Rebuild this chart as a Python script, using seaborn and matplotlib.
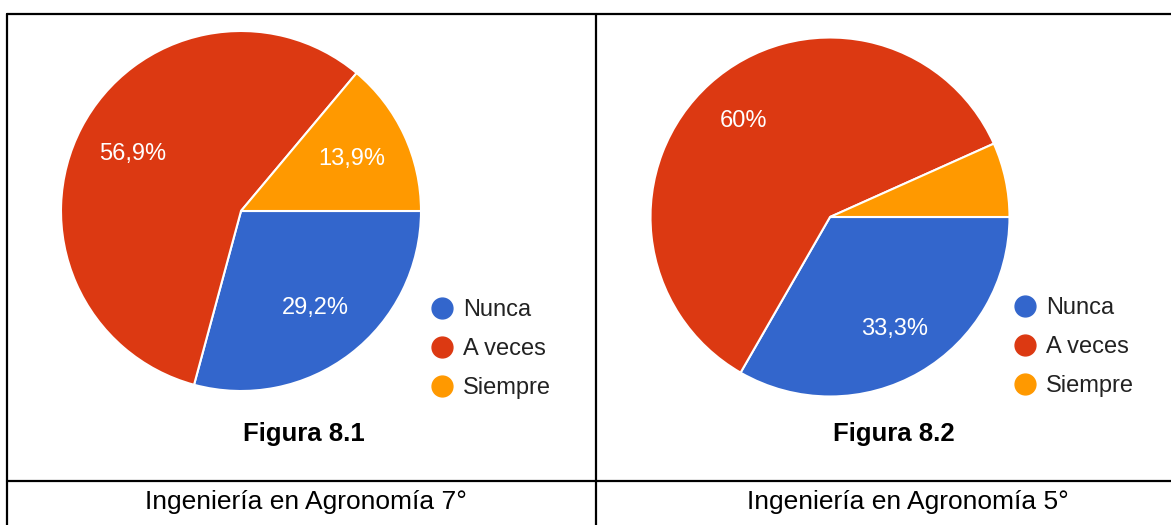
import matplotlib
matplotlib.use('Agg')
import matplotlib.pyplot as plt
from matplotlib.lines import Line2D
import seaborn as sns

# ─── Data ─────────────────────────────────────────────────────────────────────

CATEGORIES = ['Nunca', 'A veces', 'Siempre']
VALUES_7 = [29.2, 56.9, 13.9]    # Ingeniería en Agronomía 7°
VALUES_5 = [33.3, 60.0, 6.7]     # Ingeniería en Agronomía 5°
FIG_TITLES = ['Figura 8.1', 'Figura 8.2']
CAPTIONS = ['Ingeniería en Agronomía 7°', 'Ingeniería en Agronomía 5°']

COLORS = sns.color_palette(['#3366CC', '#DC3912', '#FF9900'])

W, H = 1171, 525

sns.set_theme(style='white')
plt.rcParams['font.family'] = ['Liberation Sans', 'DejaVu Sans']


def fx(x):
    return x / W


def fy(y):
    return 1 - y / H


def pct_label(p):
    # Google-style labels: comma decimals, small slices left unlabeled
    if p < 10:
        return ''
    s = f'{p:.1f}'.replace('.', ',')
    if s.endswith(',0'):
        s = s[:-2]
    return s + '%'


def draw_pie(fig, values, cx, cy, r, pctdist, legend_xy):
    ax = fig.add_axes([fx(cx - r), fy(cy + r), 2 * r / W, 2 * r / H])
    ax.pie(values, colors=COLORS, startangle=0, counterclock=False,
           autopct=pct_label, pctdistance=pctdist,
           wedgeprops=dict(edgecolor='white', linewidth=1.5),
           textprops=dict(color='white', fontsize=17))
    ax.set_xlim(-1, 1)
    ax.set_ylim(-1, 1)
    ax.set_aspect('equal')
    ax.axis('off')

    handles = [Line2D([], [], marker='o', linestyle='none', markersize=15,
                      markerfacecolor=c, markeredgecolor=c) for c in COLORS]
    fig.legend(handles, CATEGORIES, loc='upper left',
               bbox_to_anchor=(fx(legend_xy[0]), fy(legend_xy[1])),
               bbox_transform=fig.transFigure, frameon=False,
               fontsize=17, labelcolor='#222222', handlelength=0.95,
               handletextpad=0.4, labelspacing=0.72, borderpad=0,
               borderaxespad=0)


fig = plt.figure(figsize=(W / 100, H / 100), dpi=100)
fig.patch.set_facecolor('white')

draw_pie(fig, VALUES_7, 241, 211, 180, 0.68, (431, 299))
draw_pie(fig, VALUES_5, 830, 217, 179.5, 0.72, (1014, 297))

# ── Table grid ────────────────────────────────────────────────────────────────
lw = 1.6
grid = [
    ([7, W], [14, 14]),
    ([7, 7], [14, H]),
    ([596, 596], [14, H]),
    ([7, W], [481, 481]),
]
for xs, ys in grid:
    fig.add_artist(Line2D([fx(x) for x in xs], [fy(y) for y in ys],
                          color='black', linewidth=lw,
                          transform=fig.transFigure))

# ── Figure labels and captions ────────────────────────────────────────────────
for x, t in zip([304, 894], FIG_TITLES):
    fig.text(fx(x), fy(434), t, ha='center', va='center',
             fontsize=18.5, fontweight='bold', color='black')
for x, t in zip([306, 908], CAPTIONS):
    fig.text(fx(x), fy(502), t, ha='center', va='center',
             fontsize=19, color='black')

plt.savefig('out.png', dpi=100)
plt.close()
